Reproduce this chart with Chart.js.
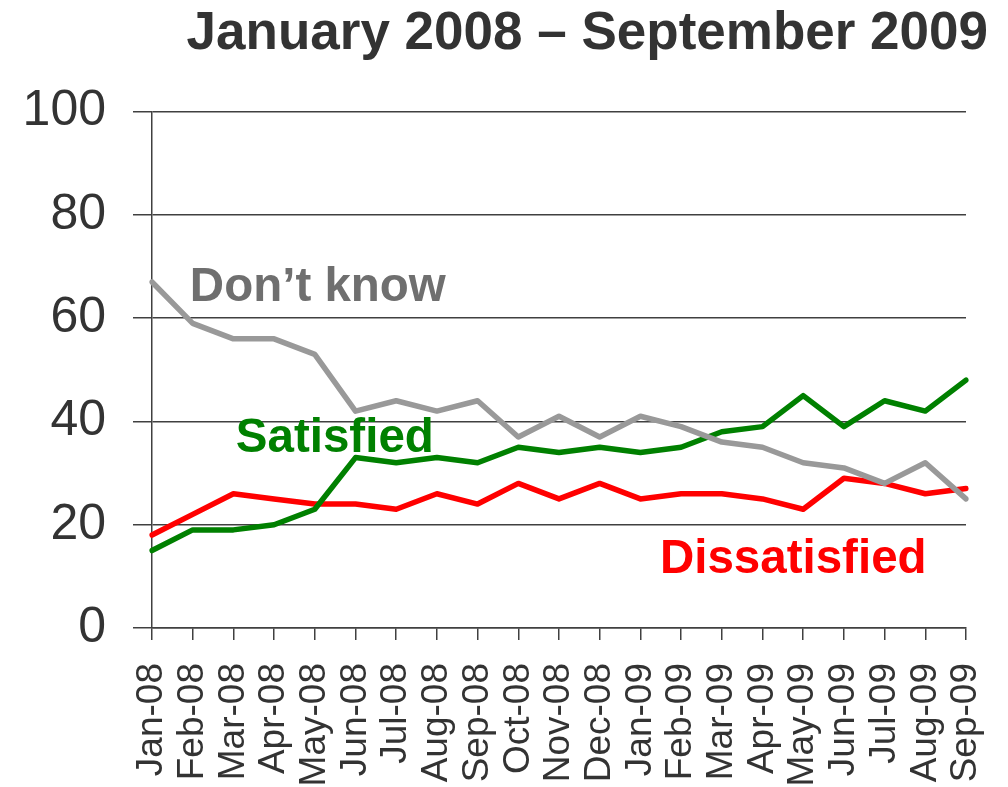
<!DOCTYPE html>
<html>
<head>
<meta charset="utf-8">
<style>
  html, body { margin: 0; padding: 0; background: #fff; }
  canvas { display: block; }
</style>
<script src="https://cdn.jsdelivr.net/npm/chart.js@4/dist/chart.umd.min.js"></script>
</head>
<body>
<canvas id="grafico" width="1008" height="787"></canvas>
<script>
const meses = ['Jan-08', 'Feb-08', 'Mar-08', 'Apr-08', 'May-08', 'Jun-08', 'Jul-08',
  'Aug-08', 'Sep-08', 'Oct-08', 'Nov-08', 'Dec-08', 'Jan-09', 'Feb-09', 'Mar-09',
  'Apr-09', 'May-09', 'Jun-09', 'Jul-09', 'Aug-09', 'Sep-09'];

const dontKnow = [67, 59, 56, 56, 53, 42, 44, 42, 44, 37, 41, 37, 41, 39, 36, 35, 32, 31, 28, 32, 25];
const satisfied = [15, 19, 19, 20, 23, 33, 32, 33, 32, 35, 34, 35, 34, 35, 38, 39, 45, 39, 44, 42, 48];
const dissatisfied = [18, 22, 26, 25, 24, 24, 23, 26, 24, 28, 25, 28, 25, 26, 26, 25, 23, 29, 28, 26, 27];

const yTicks = [0, 20, 40, 60, 80, 100];

const fuente = 'Liberation Sans, Arial, sans-serif';

// etiquetas de las series dentro del grafico (en unidades de datos)
const etiquetas = [
  { texto: 'Don\u2019t know', x: 0.93, y: 63.4, color: '#6f6f6f' },
  { texto: 'Satisfied', x: 2.06, y: 34.1, color: '#008000' },
  { texto: 'Dissatisfied', x: 12.48, y: 10.7, color: '#ff0000' }
];

const pluginEtiquetas = {
  id: 'etiquetas',
  afterDatasetsDraw(chart) {
    const ctx = chart.ctx;
    const sx = chart.scales.x;
    const sy = chart.scales.y;
    ctx.save();
    ctx.font = 'bold 47.5px ' + fuente;
    ctx.textAlign = 'left';
    ctx.textBaseline = 'alphabetic';
    etiquetas.forEach(e => {
      ctx.fillStyle = e.color;
      ctx.fillText(e.texto, sx.getPixelForValue(e.x), sy.getPixelForValue(e.y));
    });
    ctx.restore();
  }
};

const linea = (label, data, color) => ({
  label: label,
  data: data,
  borderColor: color,
  backgroundColor: color,
  borderWidth: 5.5,
  pointRadius: 0,
  tension: 0,
  borderJoinStyle: 'round',
  borderCapStyle: 'round'
});

const config = {
  type: 'line',
  data: {
    labels: meses,
    datasets: [
      linea('Don\u2019t know', dontKnow, '#999999'),
      linea('Satisfied', satisfied, '#008000'),
      linea('Dissatisfied', dissatisfied, '#ff0000')
    ]
  },
  options: {
    responsive: false,
    animation: false,
    layout: { padding: { left: 22, right: 20, top: 0, bottom: 0 } },
    plugins: {
      legend: { display: false },
      tooltip: { enabled: false },
      title: {
        display: true,
        text: 'January 2008 \u2013 September 2009',
        align: 'end',
        color: '#333333',
        font: { family: fuente, size: 53, weight: 'bold' },
        padding: { top: 3, bottom: 45 }
      }
    },
    scales: {
      x: {
        offset: false,
        afterFit(scale) {
          scale.height = 159;
          scale.paddingRight = 42;
        },
        grid: {
          drawOnChartArea: false,
          drawTicks: true,
          tickLength: 12,
          color: '#404040',
          lineWidth: 1.5
        },
        border: { display: true, color: '#404040', width: 1.5 },
        ticks: {
          autoSkip: false,
          maxRotation: 90,
          minRotation: 90,
          padding: 23,
          color: '#333333',
          font: { family: fuente, size: 37 }
        }
      },
      y: {
        min: 0,
        max: 100,
        afterBuildTicks(scale) {
          scale.ticks = yTicks.map(v => ({ value: v }));
        },
        afterFit(scale) {
          scale.width = 130;
        },
        grid: {
          color: '#404040',
          lineWidth: 1.5,
          tickLength: 19
        },
        border: { display: true, color: '#404040', width: 1.5 },
        ticks: {
          padding: 27,
          color: '#333333',
          font: { family: fuente, size: 50 }
        }
      }
    }
  },
  plugins: [pluginEtiquetas]
};

new Chart(document.getElementById('grafico'), config);
</script>
</body>
</html>
